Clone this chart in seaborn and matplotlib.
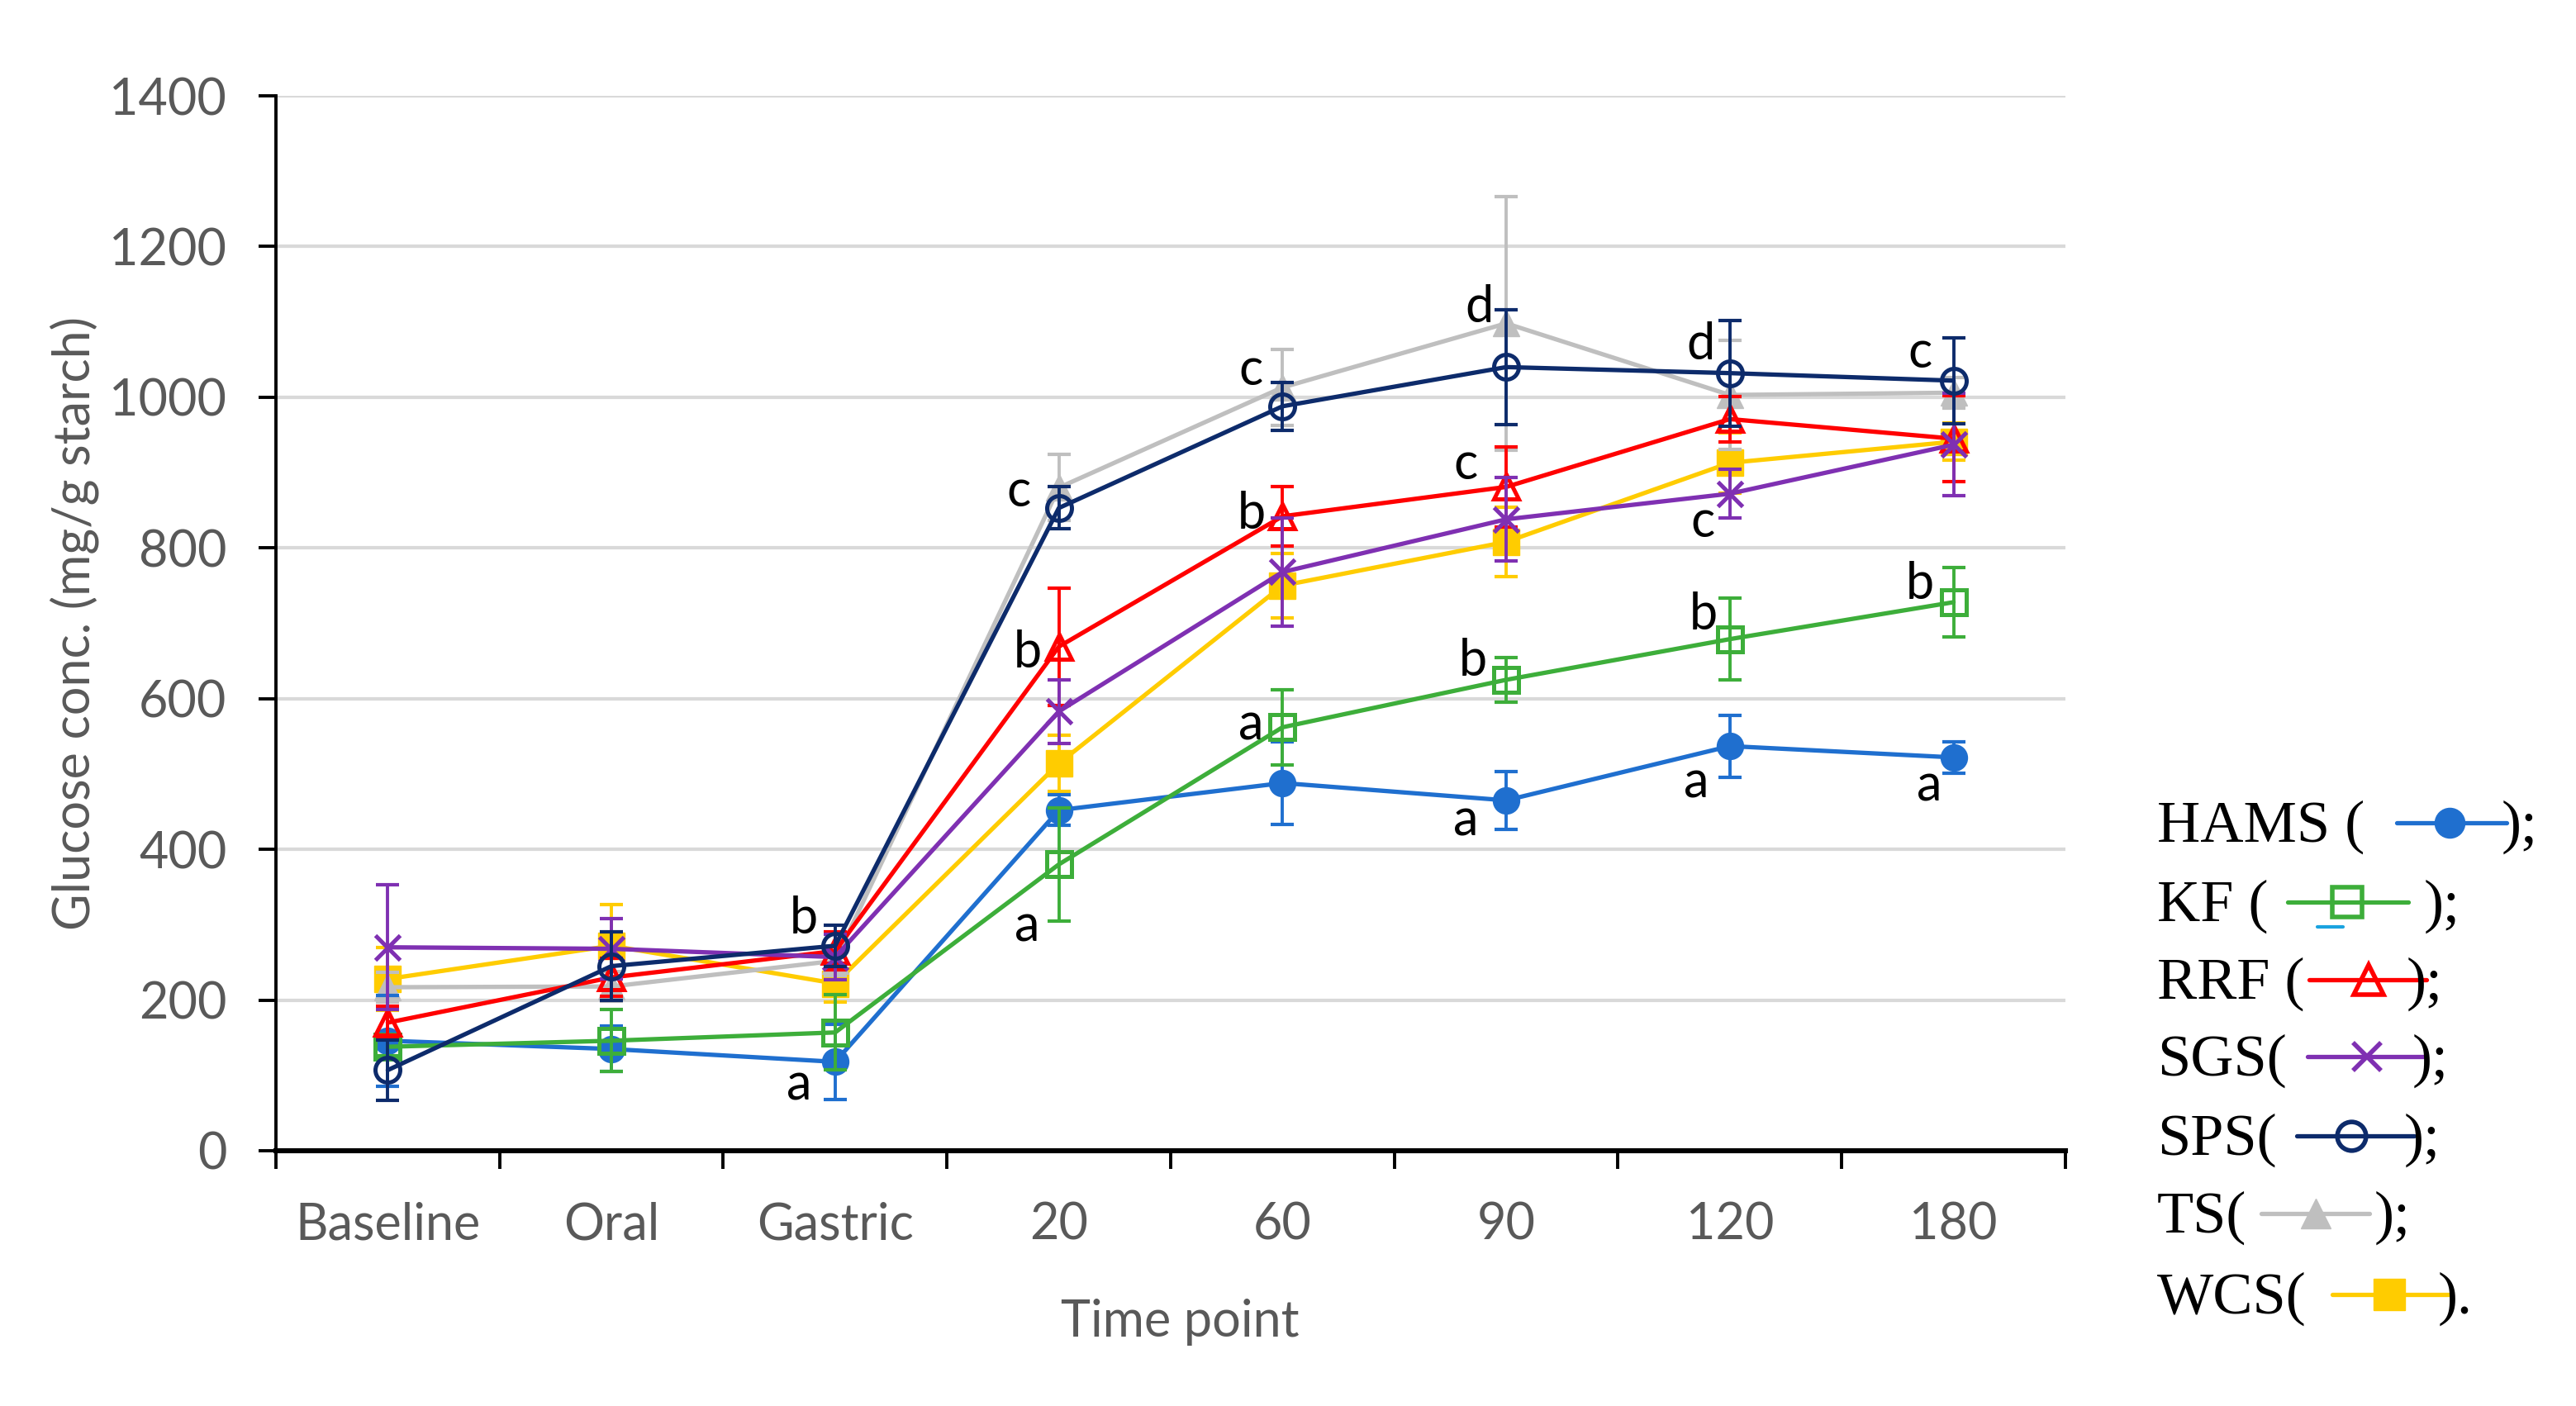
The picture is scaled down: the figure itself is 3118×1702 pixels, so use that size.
import matplotlib
matplotlib.use("Agg")
import matplotlib.pyplot as plt
from matplotlib.lines import Line2D
import numpy as np
import pandas as pd
import seaborn as sns

# ---- data ----
time_points = ["Baseline", "Oral", "Gastric", "20", "60", "90", "120", "180"]

hams = [146, 135, 118, 452, 488, 465, 537, 522]
hams_err = [60, 30, 50, 20, 55, 38, 41, 21]
kf = [138, 146, 157, 380, 562, 625, 679, 728]
kf_err = [12, 41, 50, 75, 50, 30, 54, 46]
rrf = [170, 230, 265, 669, 842, 881, 971, 945]
rrf_err = [22, 25, 25, 78, 39, 53, 30, 57]
sgs = [270, 268, 257, 583, 768, 838, 872, 937]
sgs_err = [83, 40, 30, 42, 72, 55, 32, 68]
sps = [107, 245, 272, 853, 988, 1040, 1032, 1022]
sps_err = [40, 45, 27, 28, 32, 76, 70, 57]
ts = [217, 218, 252, 880, 1013, 1098, 1003, 1006]
ts_err = [20, 20, 20, 44, 50, 168, 72, 20]
wcs = [228, 272, 222, 514, 750, 808, 913, 941]
wcs_err = [42, 55, 25, 37, 43, 46, 40, 25]

# significance letters: (x position in category units, y value, letter)
letters = [
    (1.86, 308, "b"), (1.84, 87, "a"),
    (2.82, 874, "c"), (2.86, 661, "b"), (2.86, 297, "a"),
    (3.86, 1036, "c"), (3.86, 845, "b"), (3.86, 565, "a"),
    (4.88, 1119, "d"), (4.82, 911, "c"), (4.85, 650, "b"), (4.82, 437, "a"),
    (5.87, 1069, "d"), (5.88, 834, "c"), (5.88, 711, "b"), (5.85, 488, "a"),
    (6.85, 1058, "c"), (6.85, 751, "b"), (6.89, 483, "a"),
]

series = {
    "HAMS": (hams, hams_err),
    "KF": (kf, kf_err),
    "RRF": (rrf, rrf_err),
    "SGS": (sgs, sgs_err),
    "SPS": (sps, sps_err),
    "TS": (ts, ts_err),
    "WCS": (wcs, wcs_err),
}

# styles: colour, marker, size, filled, zorder
styles = {
    "HAMS": ("#1F6FCF", "o", 11.5, True, 4),
    "KF": ("#3DAE3A", "s", 10.5, False, 5),
    "RRF": ("#FF0000", "^", 10.5, False, 6),
    "SGS": ("#7F30B2", "x", 10.5, False, 7),
    "SPS": ("#0D2B6B", "o", 10.8, False, 8),
    "TS": ("#BFBFBF", "^", 11.5, True, 3),
    "WCS": ("#FFCC00", "s", 11.5, True, 2),
}

rows = []
for name, (vals, errs) in series.items():
    for i, (v, e) in enumerate(zip(vals, errs)):
        rows.append({"starch": name, "pos": i, "glucose": v, "err": e})
df = pd.DataFrame(rows)

# ---- figure ----
sns.set_style("white")
plt.rcParams["font.family"] = ["Lato", "DejaVu Sans"]

W, H = 3118, 1702
fig = plt.figure(figsize=(W / 200, H / 200), dpi=200)
ax = fig.add_axes([334 / W, 1 - 1393 / H, (2500 - 334) / W, (1393 - 116) / H])

for name, grp in df.groupby("starch", sort=False):
    color, marker, ms, filled, z = styles[name]
    ax.errorbar(
        grp.pos, grp.glucose, yerr=grp.err, fmt="none", ecolor=color,
        elinewidth=1.4, capsize=5, capthick=1.5, zorder=z,
    )
    sns.lineplot(
        data=grp, x="pos", y="glucose", color=color, lw=1.9,
        marker=marker, markersize=ms,
        markerfacecolor=color if filled else "none",
        markeredgecolor=color, markeredgewidth=1.8 if not filled else 0.5,
        errorbar=None, ax=ax, zorder=z + 0.5,
    )

for x, y, t in letters:
    ax.text(x, y, t, ha="center", va="center", fontsize=22, color="black", zorder=20)

ax.set_xlim(-0.5, len(time_points) - 0.5)
ax.set_ylim(0, 1400)
ax.set_yticks(np.arange(0, 1401, 200))
ax.yaxis.grid(True, color="#d9d9d9", lw=1.5)
ax.set_axisbelow(True)

ax.set_xticks(np.arange(-0.5, len(time_points), 1.0))
ax.set_xticklabels([])
ax.set_xticks(np.arange(len(time_points)), minor=True)
ax.set_xticklabels(time_points, minor=True)
ax.tick_params(axis="x", which="major", length=8, width=1.4, color="black", direction="out")
ax.tick_params(axis="x", which="minor", length=0, pad=22, labelsize=22, labelcolor="#595959")
ax.tick_params(axis="y", length=7.5, width=1.4, color="black", direction="out",
               pad=14, labelsize=22, labelcolor="#595959")
ax.xaxis.set_ticks_position("bottom")
ax.yaxis.set_ticks_position("left")

for s in ["top", "right"]:
    ax.spines[s].set_visible(False)
ax.spines["bottom"].set_linewidth(2.2)
ax.spines["bottom"].set_color("black")
ax.spines["left"].set_linewidth(1.4)
ax.spines["left"].set_color("black")

ax.set_xlabel("Time point", fontsize=22, color="#595959")
ax.set_ylabel("Glucose conc. (mg/g starch)", fontsize=22, color="#595959")
ax.xaxis.set_label_coords((1428 - 334) / 2166, (1393 - 1572) / 1277)
ax.yaxis.set_label_coords((120 - 334) / 2166, 0.5)

# ---- text legend with inline samples ----
legend_rows = [
    # name, prefix, suffix, line x0, line x1, marker x, suffix x, row y (pixels)
    ("HAMS", "HAMS (", ");", 2901, 3034, 2965, 3028, 996),
    ("KF", "KF (", ");", 2769, 2915, 2841, 2934, 1092),
    ("RRF", "RRF (", ");", 2795, 2937, 2867, 2913, 1186),
    ("SGS", "SGS(", ");", 2793, 2936, 2865, 2920, 1279),
    ("SPS", "SPS(", ");", 2780, 2922, 2846, 2910, 1375),
    ("TS", "TS(", ");", 2737, 2868, 2803, 2874, 1469),
    ("WCS", "WCS(", ").", 2823, 2968, 2892, 2951, 1567),
]
leg_ms = {"HAMS": 13, "KF": 13, "RRF": 13, "SGS": 12, "SPS": 12.5, "TS": 13, "WCS": 14}
serif = ["Liberation Serif", "DejaVu Serif"]


def fx(px):
    return px / W


def fy(py):
    return 1 - py / H


for name, pre, suf, x0, x1, xm, xs, yc in legend_rows:
    color, marker, ms, filled, z = styles[name]
    fig.text(fx(2611), fy(yc + 23), pre, family=serif, fontsize=26,
             color="black", va="baseline", ha="left")
    fig.text(fx(xs), fy(yc + 23), suf, family=serif, fontsize=26,
             color="black", va="baseline", ha="left")
    fig.add_artist(Line2D([fx(x0), fx(x1)], [fy(yc), fy(yc)], transform=fig.transFigure,
                          color=color, lw=1.9))
    fig.add_artist(Line2D([fx(xm)], [fy(yc)], transform=fig.transFigure, color=color,
                          marker=marker, markersize=leg_ms[name],
                          markerfacecolor=color if filled else "none",
                          markeredgecolor=color, markeredgewidth=2.0 if not filled else 0.5,
                          lw=0))

# small stray dash under the KF sample
fig.add_artist(Line2D([fx(2805), fx(2836)], [fy(1122), fy(1122)], transform=fig.transFigure,
                      color="#1AA3E0", lw=1.5))

fig.savefig("out.png", dpi=200, facecolor="white")
